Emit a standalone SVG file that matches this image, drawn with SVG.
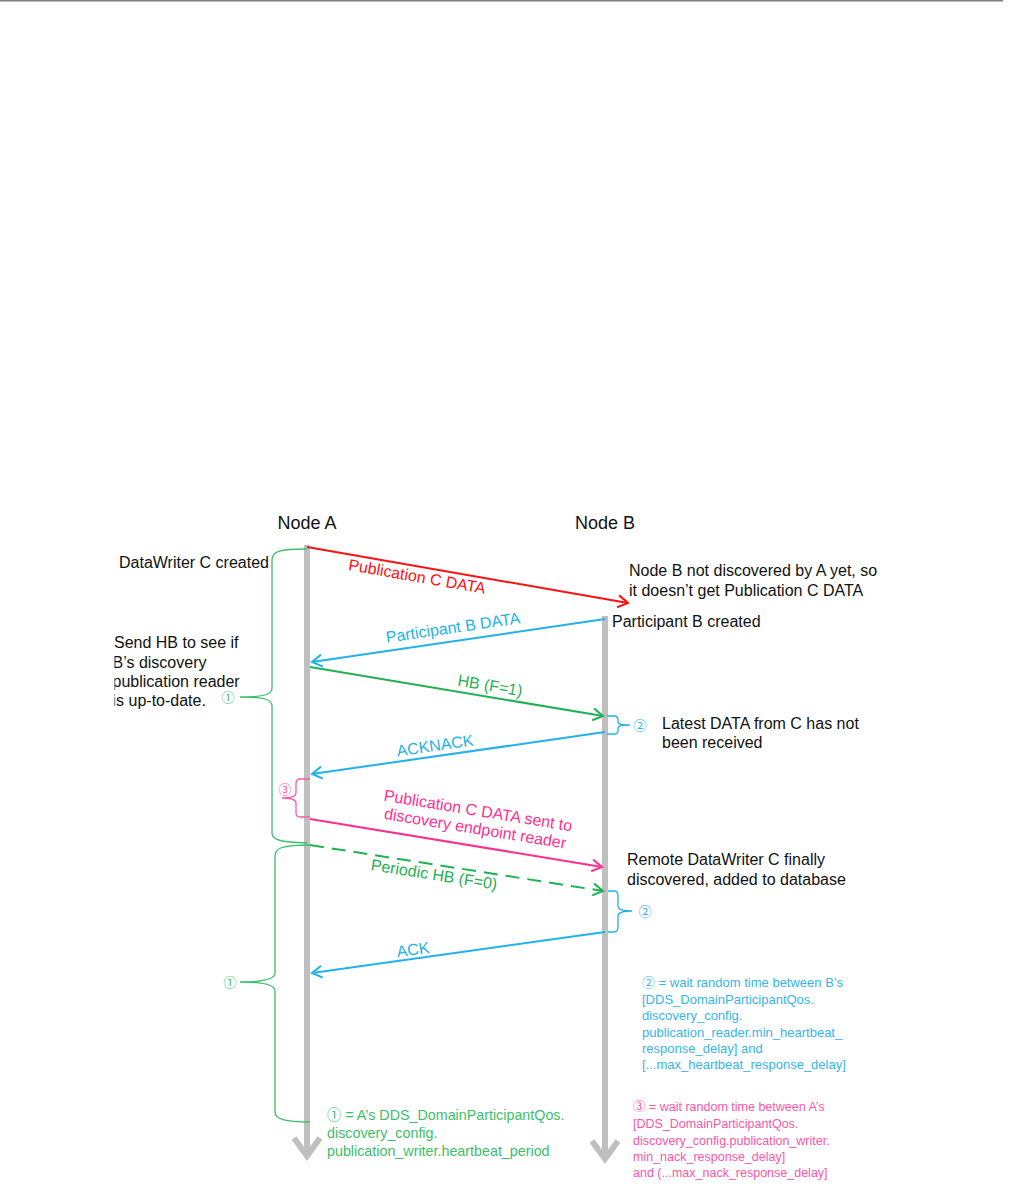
<svg xmlns="http://www.w3.org/2000/svg" width="1010" height="1204" viewBox="0 0 1010 1204">
<style>
text{font-family:"Liberation Sans",Arial,"Noto Sans CJK JP",sans-serif;}
.blk{fill:#111;font-size:16px;}
.node{fill:#111;font-size:18px;}
.lbl{font-size:16px;text-anchor:middle;}
.life{stroke:#bfbfbf;stroke-width:6;fill:none;}
.head{stroke:#bfbfbf;stroke-width:6;fill:none;stroke-linejoin:miter;}
.msg{stroke-width:2;fill:none;}
.red{stroke:#ff1010;}
.cyan{stroke:#22b2ea;}
.grn{stroke:#1fb152;}
.pink{stroke:#ff2f92;}
.brace{fill:none;stroke-width:1.3;}
.note{font-size:12.5px;}
</style>
<defs>
<marker id="aR" markerUnits="userSpaceOnUse" markerWidth="14" markerHeight="14" viewBox="0 0 14 14" refX="12" refY="7" orient="auto"><path d="M2,1 L12,7 L2,13" fill="none" stroke="#ff1010" stroke-width="2"/></marker>
<marker id="aC" markerUnits="userSpaceOnUse" markerWidth="14" markerHeight="14" viewBox="0 0 14 14" refX="12" refY="7" orient="auto"><path d="M2,1 L12,7 L2,13" fill="none" stroke="#22b2ea" stroke-width="2"/></marker>
<marker id="aG" markerUnits="userSpaceOnUse" markerWidth="14" markerHeight="14" viewBox="0 0 14 14" refX="12" refY="7" orient="auto"><path d="M2,1 L12,7 L2,13" fill="none" stroke="#1fb152" stroke-width="2"/></marker>
<marker id="aP" markerUnits="userSpaceOnUse" markerWidth="14" markerHeight="14" viewBox="0 0 14 14" refX="12" refY="7" orient="auto"><path d="M2,1 L12,7 L2,13" fill="none" stroke="#ff2f92" stroke-width="2"/></marker>
<clipPath id="clipL"><rect x="114.5" y="620" width="200" height="100"/></clipPath>
</defs>

<line x1="0" y1="0.5" x2="1003" y2="0.5" stroke="#808080" stroke-width="2"/>

<g id="nodeA">
<text class="node" x="307" y="529" text-anchor="middle">Node A</text>
<line class="life" x1="307" y1="545" x2="307" y2="1156"/>
<polyline class="head" points="294,1138 307,1156 320,1138"/>
</g>
<g id="nodeB">
<text class="node" x="605" y="529" text-anchor="middle">Node B</text>
<line class="life" x1="605" y1="616" x2="605" y2="1159"/>
<polyline class="head" points="592,1141 605,1159 618,1141"/>
</g>

<g id="connectors">
<line class="msg red" x1="307" y1="547" x2="628" y2="603" marker-end="url(#aR)"/>
<line class="msg cyan" x1="605" y1="619" x2="312" y2="662" marker-end="url(#aC)"/>
<line class="msg grn" x1="310" y1="667" x2="603" y2="716" marker-end="url(#aG)"/>
<line class="msg cyan" x1="605" y1="732" x2="312" y2="774" marker-end="url(#aC)"/>
<line class="msg pink" x1="310" y1="819" x2="602" y2="867" marker-end="url(#aP)"/>
<line class="msg grn" x1="310" y1="845" x2="603" y2="891" stroke-dasharray="14 8" marker-end="url(#aG)"/>
<line class="msg cyan" x1="605" y1="932" x2="312" y2="973" marker-end="url(#aC)"/>
</g>

<g id="labels">
<text class="lbl" fill="#ff1010" transform="translate(417,577) rotate(9.9)" y="5">Publication C DATA</text>
<text class="lbl" fill="#22b2ea" transform="translate(453,628) rotate(-8.35)" y="5">Participant B DATA</text>
<text class="lbl" fill="#1fb152" transform="translate(490,686) rotate(9.5)" y="5">HB (F=1)</text>
<text class="lbl" fill="#22b2ea" transform="translate(435,746) rotate(-8.2)" y="5">ACKNACK</text>
<g transform="translate(478,811) rotate(9.3)">
<text class="lbl" fill="#ff2f92" y="5">Publication C DATA sent to</text>
<text class="lbl" fill="#ff2f92" y="23">discovery endpoint reader</text>
</g>
<text class="lbl" fill="#1fb152" transform="translate(434,875) rotate(8.9)" y="5">Periodic HB (F=0)</text>
<text class="lbl" fill="#22b2ea" transform="translate(413,950) rotate(-8)" y="5">ACK</text>
</g>

<g id="brace1">
<path class="brace" stroke="#3cbf6a" d="M307,549 C280,549 272,551 272,560 L272,688 C272,694 266,697 240,697 C266,697 272,700 272,706 L272,833 C272,840 280,842 307,843"/>
<text x="228" y="702" font-size="13" fill="#3cbf6a" text-anchor="middle">①</text>
</g>
<g id="brace2">
<path class="brace" stroke="#3cbf6a" d="M310,845 C282,845 275,848 275,856 L275,973 C275,979 262,982 240,982 C262,982 275,985 275,991 L275,1112 C275,1119 285,1122 310,1122"/>
<text x="230" y="987" font-size="13" fill="#3cbf6a" text-anchor="middle">①</text>
</g>
<g id="brace3">
<path class="brace" stroke="#ff5aa8" d="M310,779 L300,779 C297,779 296,781 296,784 L296,793 C296,796 292,798 282,798 C292,798 296,800 296,803 L296,813 C296,816 297,817 300,817 L310,817"/>
<text x="285" y="794" font-size="13" fill="#ff5aa8" text-anchor="middle">③</text>
</g>
<g id="brace4">
<path class="brace" stroke="#22b2ea" d="M607,716 L614,716 C617,716 618,718 618,720 L618,722 C618,724 620,725 630,725 C620,725 618,726 618,728 L618,731 C618,733 617,734 614,734 L607,734"/>
<text x="640" y="730" font-size="13" fill="#22b2ea" text-anchor="middle">②</text>
</g>
<g id="brace5">
<path class="brace" stroke="#22b2ea" d="M608,891 L614,891 C617,891 618,893 618,896 L618,906 C618,909 621,911 632,911 C621,911 618,913 618,916 L618,927 C618,930 617,932 614,932 L608,932"/>
<text x="645" y="916" font-size="13" fill="#22b2ea" text-anchor="middle">②</text>
</g>

<g id="notes">
<text class="blk" x="119" y="568">DataWriter C created</text>
<g clip-path="url(#clipL)">
<text class="blk" x="114" y="648">Send HB to see if</text>
<text class="blk" x="112.5" y="668">B’s discovery</text>
<text class="blk" x="112.5" y="687">publication reader</text>
<text class="blk" x="112.5" y="706">is up-to-date.</text>
</g>
<text class="blk" x="629" y="576">Node B not discovered by A yet, so</text>
<text class="blk" x="629" y="596">it doesn’t get Publication C DATA</text>
<text class="blk" x="612" y="627">Participant B created</text>
<text class="blk" x="662" y="729">Latest DATA from C has not</text>
<text class="blk" x="662" y="748">been received</text>
<text class="blk" x="627" y="865">Remote DataWriter C finally</text>
<text class="blk" x="627" y="885">discovered, added to database</text>

<g fill="#35b6ea" font-size="13">
<text x="642" y="987">② = wait random time between B’s</text>
<text x="642" y="1003.5">[DDS_DomainParticipantQos.</text>
<text x="642" y="1020">discovery_config.</text>
<text x="642" y="1036.5">publication_reader.min_heartbeat_</text>
<text x="642" y="1053">response_delay]  and</text>
<text x="642" y="1069">[...max_heartbeat_response_delay]</text>
</g>
<g fill="#ff55a8" class="note">
<text x="633" y="1111">③ = wait random time between A’s</text>
<text x="633" y="1128">[DDS_DomainParticipantQos.</text>
<text x="633" y="1144.5">discovery_config.publication_writer.</text>
<text x="633" y="1161">min_nack_response_delay]</text>
<text x="633" y="1177">and (...max_nack_response_delay]</text>
</g>
<g fill="#3cbf6a" font-size="14.3">
<text x="327" y="1120">➀ = A’s DDS_DomainParticipantQos.</text>
<text x="327" y="1138">discovery_config.</text>
<text x="327" y="1156">publication_writer.heartbeat_period</text>
</g>
</g>
</svg>
